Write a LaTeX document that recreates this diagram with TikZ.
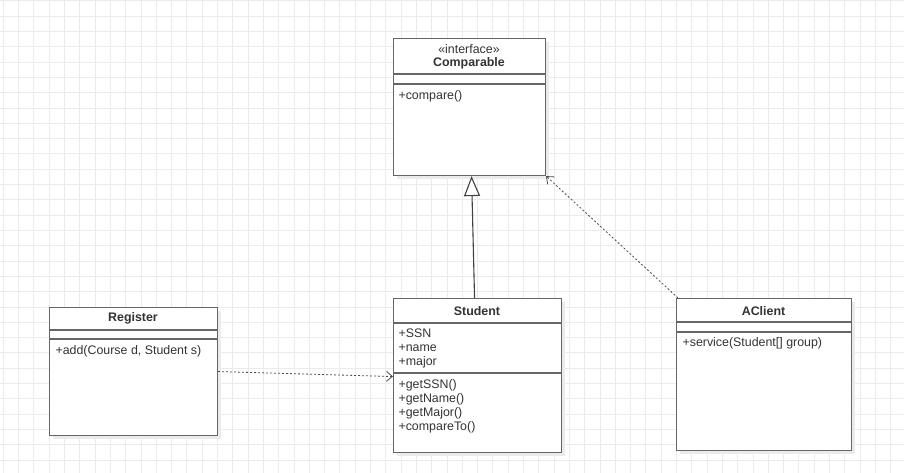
\documentclass[tikz,border=0pt]{standalone}
\usepackage{fontspec}
\setmainfont{Liberation Sans}
\usetikzlibrary{arrows.meta, positioning, calc, shadows}
\definecolor{cline}{HTML}{666666}
\definecolor{ctext}{HTML}{333333}
\definecolor{cgrid}{HTML}{EBEBEB}
\tikzset{
  every picture/.style={font=\fontsize{12.4}{14}\selectfont, line width=1.1pt},
  classbox/.style={draw=cline, fill=white, anchor=north west, inner sep=0pt,
    drop shadow={shadow xshift=3pt, shadow yshift=-3pt, fill=black!8, opacity=1}},
  divider/.style={draw=cline, line width=1.1pt},
  gridline/.style={draw=cgrid, line width=1pt},
  cname/.style={font=\fontsize{12.4}{14}\selectfont\bfseries, text=ctext, inner sep=0pt},
  stereo/.style={text=ctext, inner sep=0pt},
  member/.style={text=ctext, anchor=west, inner sep=0pt, text height=9pt, text depth=2.5pt},
  inherit/.style={-{Triangle[length=20pt, width=16pt, fill=white]}, draw=black!75, line width=1.1pt},
  depend/.style={-{Straight Barb[length=6pt, width=10pt]}, draw=black!70, line width=0.8pt, dash pattern=on 2pt off 2pt},
}

\begin{document}
\begin{tikzpicture}[x=1pt, y=-1pt]
  \useasboundingbox (0,0) rectangle (904,473);
  % background grid
  \foreach \k in {0,...,59}
    \draw[gridline] (3.3+15.3*\k,0) -- (3.3+15.3*\k,473);
  \foreach \k in {0,...,30}
    \draw[gridline] (0,1+15.3*\k) -- (904,1+15.3*\k);

  % Comparable (interface)
  \node[classbox, minimum width=152pt, minimum height=137pt] (comparable) at (393,38) {};
  \node[stereo] (cmpstereo) at (469,49) {«interface»};
  \node[cname] (cmptitle) at (469,63) {Comparable};
  \draw[divider] ([yshift=-36pt]comparable.north west) -- ([yshift=-36pt]comparable.north east);
  \draw[divider] ([yshift=-46pt]comparable.north west) -- ([yshift=-46pt]comparable.north east);
  \node[member] (cmpop) at (398,96) {+compare()};

  % Student
  \node[classbox, minimum width=168pt, minimum height=154pt] (student) at (393,298) {};
  \node[cname] (sttitle) at (477,311) {Student};
  \draw[divider] ([yshift=-25pt]student.north west) -- ([yshift=-25pt]student.north east);
  \foreach \t [count=\i from 0] in {+SSN, +name, +major}
    \node[member] (stattr\i) at (398,334+14*\i) {\t};
  \draw[divider] ([yshift=-75pt]student.north west) -- ([yshift=-75pt]student.north east);
  \foreach \t [count=\i from 0] in {+getSSN(), +getName(), +getMajor(), +compareTo()}
    \node[member] (stop\i) at (398,385+14*\i) {\t};

  % Register
  \node[classbox, minimum width=168pt, minimum height=128pt] (register) at (49,307) {};
  \node[cname] (regtitle) at (133,318) {Register};
  \draw[divider] ([yshift=-23pt]register.north west) -- ([yshift=-23pt]register.north east);
  \draw[divider] ([yshift=-32pt]register.north west) -- ([yshift=-32pt]register.north east);
  \node[member] (regop) at (55,351) {+add(Course d, Student s)};

  % AClient
  \node[classbox, minimum width=175pt, minimum height=152pt] (aclient) at (676,298) {};
  \node[cname] (actitle) at (763.5,311) {AClient};
  \draw[divider] ([yshift=-24pt]aclient.north west) -- ([yshift=-24pt]aclient.north east);
  \draw[divider] ([yshift=-34pt]aclient.north west) -- ([yshift=-34pt]aclient.north east);
  \node[member] (acop) at (682,343) {+service(Student[] group)};

  % relations
  \draw[inherit] ([xshift=-3pt]student.north) -- ([xshift=2pt]comparable.south);
  \draw[depend] ([xshift=2pt]aclient.north west) -- (comparable.south east);
  \draw[depend] (register.east) -- ([yshift=-1pt]student.west);
\end{tikzpicture}
\end{document}
